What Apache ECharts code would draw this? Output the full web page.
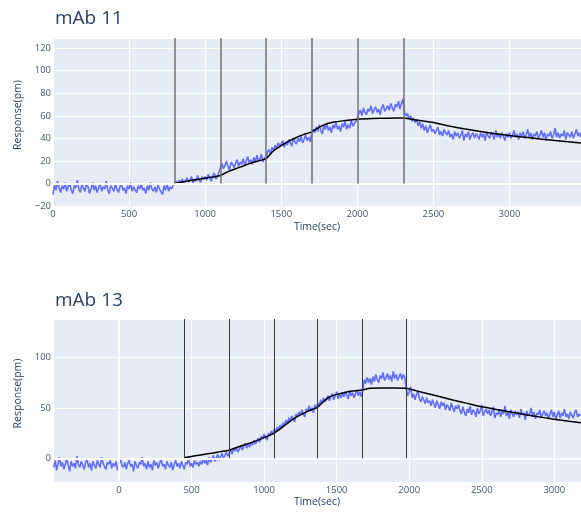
<!DOCTYPE html>
<html>
<head>
<meta charset="utf-8">
<script src="https://cdn.jsdelivr.net/npm/echarts@6/dist/echarts.min.js"></script>
<style>
  html, body { margin: 0; padding: 0; background: #fff; }
  #chart { width: 581px; height: 513px; }
</style>
</head>
<body>
<div id="chart"></div>
<script>
// ---- mAb 11 ----
// raw sensor trace, one sample every 10 s starting at 0 s (20 samples per row)
const mab11Start = 0;
const mab11Step = 10;
const mab11Response = [
  -10, -1, -6, 2, -4, -8, -2, -5, 1, -7, -3, 0, -6, -9, -2, -4, 3, -5, -8, -1,
  -4, -7, 0, -3, -9, -5, 1, -6, -2, -8, -4, 0, -7, -3, -5, 2, -6, -9, -2, -4,
  -7, -1, -5, -8, -3, 0, -6, -4, -9, -2, -5, 1, -7, -3, -6, -8, -2, -5, 0, -6,
  -4, -9, -2, -6, 1, -5, -7, -3, -8, -1, -5, -4, -10, -2, -6, 0, -7, -3, -5, -1,
  -2, 2, -1, 3, 0, 4, -1, 2, 5, 1, 3, 6, 0, 4, 2, 7, 3, 1, 6, 4,
  6, 3, 8, 5, 2, 7, 9, 4, 6, 10, 14, 18, 13, 16, 20, 15, 12, 19, 17, 14,
  18, 21, 15, 19, 17, 22, 16, 20, 24, 18, 21, 17, 23, 19, 25, 20, 22, 26, 19, 23,
  21, 28, 30, 26, 32, 29, 34, 31, 36, 33, 35, 38, 32, 37, 34, 39, 36, 33, 40, 37,
  35, 40, 37, 42, 36, 39, 43, 38, 41, 37, 44, 48, 45, 50, 46, 52, 47, 44, 51, 48,
  53, 47, 50, 45, 52, 49, 54, 48, 51, 46, 53, 50, 55, 48, 52, 49, 56, 51, 53, 55,
  57, 62, 65, 60, 67, 63, 61, 66, 64, 69, 62, 65, 68, 63, 66, 61, 67, 70, 64, 66,
  69, 65, 71, 67, 64, 70, 68, 73, 66, 71, 75, 63, 60, 62, 57, 60, 55, 58, 54, 57,
  51, 55, 49, 53, 47, 51, 45, 49, 52, 46, 48, 44, 47, 50, 43, 46, 42, 48, 45, 43,
  47, 41, 44, 39, 46, 42, 45, 40, 43, 47, 38, 44, 41, 46, 39, 43, 45, 40, 44, 42,
  39, 45, 41, 44, 38, 46, 42, 40, 45, 43, 39, 47, 41, 44, 40, 45, 42, 38, 44, 41,
  45, 40, 43, 47, 41, 44, 39, 45, 42, 46, 40, 43, 48, 41, 45, 39, 44, 42, 46, 40,
  43, 47, 41, 45, 38, 44, 42, 46, 40, 43, 49, 41, 45, 40, 44, 42, 47, 39, 45, 43,
  41, 46, 40, 44, 48, 42, 45, 41
];
// fitted curve
const mab11FitTime = [800, 850, 900, 950, 1000, 1050, 1100, 1150, 1200, 1250, 1300, 1350, 1400,
  1450, 1500, 1550, 1600, 1650, 1700, 1750, 1800, 1850, 1900, 1950, 2000, 2100, 2200, 2305,
  2400, 2500, 2600, 2700, 2800, 2900, 3000, 3100, 3200, 3300, 3400, 3470];
const mab11Fit = [0, 1.3, 2.5, 3.6, 4.7, 5.8, 7, 10.5, 13, 15.5, 18, 20, 22,
  29, 33.5, 37.5, 40.8, 43.5, 45.8, 50, 53, 54.5, 55.5, 56.3, 57, 57.6, 57.9, 58,
  56, 54, 51, 48.5, 46.3, 44.3, 42.5, 41, 39.5, 38, 36.7, 35.8];
// step boundaries
const mab11Steps = [800, 1100, 1400, 1700, 2000, 2305];

// ---- mAb 13 ----
const mab13Start = -450;
const mab13Step = 10;
const mab13Response = [
  -9, -2, -12, -5, 1, -8, -4, -11, -6, 0, -7, -13, -3, -8, -5, -10, 2, -6, -9, -3,
  -7, -11, -4, -1, -9, -5, -12, -3, -7, -10, -2, -6, -9, 1, -5, -8, -11, -4, -6, -2,
  -10, -5, -8, -3, -12, -6, 0, -7, -9, -4, -11, -5, -2, -8, -6, -13, -3, -7, -10, -4,
  -6, 1, -8, -5, -11, -3, -9, -6, -12, -2, -7, -4, -10, -5, 0, -8, -6, -11, -3, -7,
  -9, -4, -12, -6, -2, -8, -5, -10, -3, -7, -11, -4, -6, 1, -8, -5, -9, -2, -6, -4,
  -8, -3, -6, 0, -5, -2, -7, 1, -4, -1, 3, -3, 0, 4, -2, 2, 5, 0, 3, 6,
  2, 5, 8, 4, 10, 7, 11, 6, 9, 13, 8, 12, 15, 10, 14, 11, 16, 13, 18, 14,
  17, 20, 16, 22, 19, 24, 21, 18, 25, 22, 27, 24, 29, 26, 31, 28, 33, 30, 35, 32,
  38, 34, 40, 37, 42, 39, 36, 44, 41, 46, 43, 48, 44, 41, 49, 46, 52, 47, 50, 45,
  53, 49, 55, 52, 58, 54, 60, 56, 59, 62, 57, 61, 64, 58, 62, 66, 59, 63, 60, 65,
  61, 66, 63, 59, 67, 62, 65, 60, 64, 68, 62, 66, 61, 67, 78, 74, 80, 75, 79, 73,
  81, 76, 83, 78, 75, 82, 79, 85, 77, 80, 84, 78, 82, 76, 86, 79, 83, 77, 81, 84,
  78, 83, 80, 68, 62, 66, 71, 60, 64, 58, 63, 67, 59, 56, 61, 58, 54, 60, 55, 57,
  52, 58, 54, 50, 57, 53, 49, 56, 52, 55, 48, 53, 51, 47, 55, 50, 46, 52, 49, 53,
  47, 44, 51, 46, 42, 49, 45, 52, 43, 48, 46, 41, 50, 44, 47, 53, 42, 46, 49, 44,
  48, 42, 46, 51, 40, 45, 43, 49, 41, 47, 44, 52, 42, 46, 39, 48, 44, 41, 47, 43,
  46, 40, 49, 43, 45, 38, 47, 42, 44, 50, 41, 46, 39, 45, 43, 48, 40, 44, 47, 42,
  45, 39, 44, 48, 41, 46, 38, 43, 47, 40, 45, 42, 49, 41, 44, 39, 46, 43, 40, 45,
  48, 41, 44, 42
];
const mab13FitTime = [450, 500, 550, 600, 650, 700, 757, 800, 850, 900, 950, 1000, 1067,
  1100, 1150, 1200, 1250, 1300, 1368, 1400, 1450, 1500, 1550, 1600, 1676,
  1730, 1800, 1900, 1979, 2050, 2166, 2300, 2400, 2500, 2626, 2750, 2855, 3000, 3100, 3184];
const mab13Fit = [0.5, 1.8, 3, 4.2, 5.3, 6.6, 8, 10.2, 12.6, 15, 17.5, 20.5, 24.7,
  28, 33.5, 38.8, 43, 46.5, 50.5, 55, 60.7, 63.3, 65, 66.3, 67.6,
  69.3, 69.7, 69.7, 69.5, 66.8, 62.7, 57.8, 54.4, 51, 47.8, 44.6, 41.9, 38.7, 36.7, 35.2];
const mab13Steps = [450, 757, 1067, 1368, 1676, 1979];

const FONT = 'Open Sans';
const TXT = '#2a3f5f';
const TICK = '#44546e';
const PLOT_BG = '#e5ecf6';

function trace(start, step, values) {
  return values.map((v, i) => [start + i * step, v]);
}
function pairs(xs, ys) {
  return xs.map((x, i) => [x, ys[i]]);
}
function minus(v) {
  return String(v).replace('-', '\u2212');
}

function xAxisFor(gridIndex, min, max, extra, labelExtra) {
  return Object.assign({
    type: 'value', gridIndex, min, max,
    name: 'Time(sec)', nameLocation: 'middle', nameGap: 16,
    nameTextStyle: { fontFamily: FONT, fontSize: 10.5, color: TXT },
    axisLine: { show: false }, axisTick: { show: false },
    axisLabel: Object.assign({ fontFamily: FONT, fontSize: 9.5, color: TICK, margin: 3, formatter: minus }, labelExtra),
    splitLine: { lineStyle: { color: '#ffffff', width: 1 } }
  }, extra);
}
function yAxisFor(gridIndex, min, max, extra, labelExtra) {
  return Object.assign({
    type: 'value', gridIndex, min, max,
    name: 'Response(pm)', nameLocation: 'middle', nameGap: 24,
    nameTextStyle: { fontFamily: FONT, fontSize: 10.5, color: TXT, padding: [0, 0, 0, 14] },
    axisLine: { show: false }, axisTick: { show: false },
    axisLabel: Object.assign({ fontFamily: FONT, fontSize: 9.5, color: TICK, margin: 2, formatter: minus }, labelExtra),
    splitLine: { lineStyle: { color: '#ffffff', width: 1 } }
  }, extra);
}

function stepLines(times, top) {
  return times.map(t => [{ coord: [t, 0] }, { coord: [t, top] }]);
}
function helper(axis, z, color, width, data) {
  return {
    type: 'line', xAxisIndex: axis, yAxisIndex: axis, data: [], z: z, silent: true,
    markLine: { silent: true, symbol: 'none', label: { show: false }, animation: false,
      lineStyle: { color: color, width: width, type: 'solid' }, data: data }
  };
}

const y11Max = 129;
const y13Max = 138;

const chart = echarts.init(document.getElementById('chart'));
chart.setOption({
  animation: false,
  title: [
    { text: 'mAb 11', left: 55, top: 9, padding: 0, textStyle: { fontFamily: FONT, fontSize: 19, fontWeight: 'normal', color: TXT } },
    { text: 'mAb 13', left: 55, top: 291, padding: 0, textStyle: { fontFamily: FONT, fontSize: 19, fontWeight: 'normal', color: TXT } }
  ],
  grid: [
    { left: 53, top: 38, width: 528, height: 168, show: true, backgroundColor: PLOT_BG, borderWidth: 0 },
    { left: 53, top: 319, width: 528, height: 163, show: true, backgroundColor: PLOT_BG, borderWidth: 0 }
  ],
  xAxis: [
    xAxisFor(0, 0, 3470, { interval: 500 }, { showMaxLabel: false }),
    xAxisFor(1, -455, 3184, { splitNumber: 7, nameGap: 15 }, { showMinLabel: false, showMaxLabel: false })
  ],
  yAxis: [
    yAxisFor(0, -20, y11Max, { interval: 20 }, { showMaxLabel: false }),
    yAxisFor(1, -23.5, y13Max, { splitNumber: 3 }, { showMinLabel: false, showMaxLabel: false })
  ],
  series: [
    // zero lines, a bit wider than the grid lines
    helper(0, 1, '#ffffff', 2, [{ yAxis: 0 }]),
    helper(1, 1, '#ffffff', 2, [{ yAxis: 0 }, { xAxis: 0 }]),
    {
      name: 'mAb 11', type: 'line', xAxisIndex: 0, yAxisIndex: 0, z: 2,
      data: trace(mab11Start, mab11Step, mab11Response),
      showSymbol: false, lineStyle: { color: '#636efa', width: 1.6 }
    },
    helper(0, 3, '#707070', 1.5, stepLines(mab11Steps, y11Max)),
    {
      name: 'mAb 11 fit', type: 'line', xAxisIndex: 0, yAxisIndex: 0, z: 4,
      data: pairs(mab11FitTime, mab11Fit), smooth: 0.2,
      showSymbol: false, lineStyle: { color: '#000000', width: 1.5 }
    },
    {
      name: 'mAb 13', type: 'line', xAxisIndex: 1, yAxisIndex: 1, z: 2,
      data: trace(mab13Start, mab13Step, mab13Response),
      showSymbol: false, lineStyle: { color: '#636efa', width: 1.6 }
    },
    helper(1, 3, '#3a3a3a', 1, stepLines(mab13Steps, y13Max)),
    {
      name: 'mAb 13 fit', type: 'line', xAxisIndex: 1, yAxisIndex: 1, z: 4,
      data: pairs(mab13FitTime, mab13Fit), smooth: 0.2,
      showSymbol: false, lineStyle: { color: '#000000', width: 1.5 }
    }
  ]
});
</script>
</body>
</html>
